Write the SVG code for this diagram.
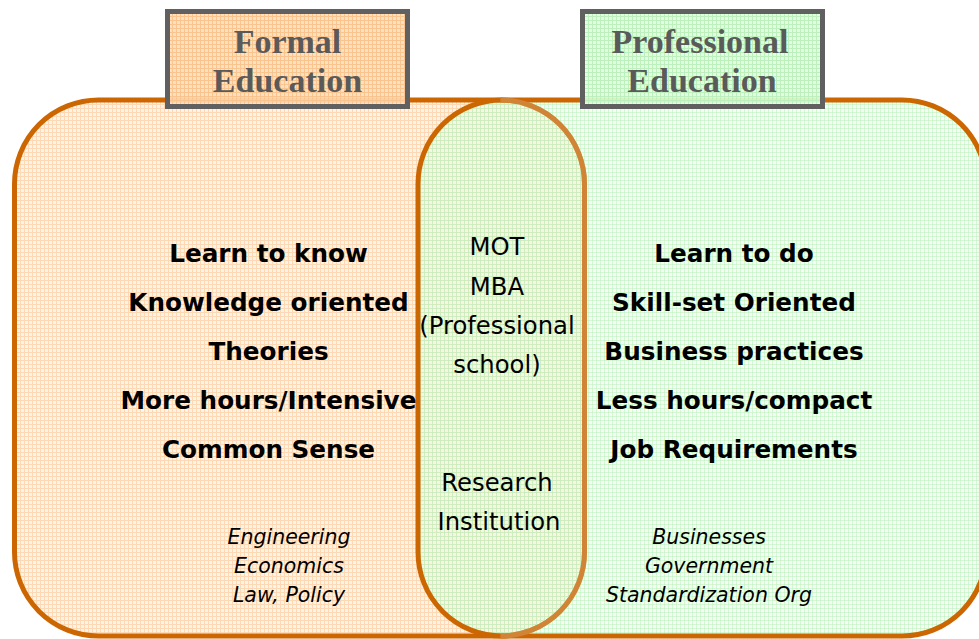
<svg xmlns="http://www.w3.org/2000/svg" width="979" height="639" viewBox="0 0 979 639">
<defs>
<pattern id="po" width="4" height="4" patternUnits="userSpaceOnUse">
<rect width="4" height="4" fill="#fff3e7"/>
<rect width="4" height="1" fill="#fcd8b4"/>
<rect width="1" height="4" fill="#fcd8b4"/>
</pattern>
<pattern id="pg" width="4" height="4" patternUnits="userSpaceOnUse">
<rect width="4" height="4" fill="#e2ffe2" fill-opacity="0.4"/>
<rect width="4" height="1" fill="#b8f0b8" fill-opacity="0.5"/>
<rect width="1" height="4" fill="#b8f0b8" fill-opacity="0.5"/>
</pattern>
<pattern id="pto" width="4" height="4" patternUnits="userSpaceOnUse">
<rect width="4" height="4" fill="#fddcbc" fill-opacity="0.9"/>
<rect width="4" height="1" fill="#f9c48e"/>
<rect width="1" height="4" fill="#f9c48e"/>
</pattern>
<pattern id="ptg" width="4" height="4" patternUnits="userSpaceOnUse">
<rect width="4" height="4" fill="#ddffdd" fill-opacity="0.9"/>
<rect width="4" height="1" fill="#bdf0bd"/>
<rect width="1" height="4" fill="#bdf0bd"/>
</pattern>
</defs>
<style>
.area{stroke:#cc6600;stroke-width:5}
.tbox{stroke:#606060;stroke-width:5}
.title{font-family:"Liberation Serif","Times New Roman",serif;font-weight:bold;font-size:34px;fill:#5a5a5a;text-anchor:middle}
.main{font-family:"DejaVu Sans",Verdana,sans-serif;font-weight:bold;font-size:24.7px;fill:#000;text-anchor:middle}
.mid{font-family:"DejaVu Sans",Verdana,sans-serif;font-size:24.3px;fill:#000;text-anchor:middle}
.ital{font-family:"DejaVu Sans",Verdana,sans-serif;font-style:italic;font-size:20.5px;fill:#000;text-anchor:middle}
</style>
<rect width="979" height="639" fill="#ffffff"/>
<g id="formal-area">
<rect class="area" x="14.5" y="100" width="570" height="536" rx="84" ry="84" fill="url(#po)"/>
</g>
<g id="professional-area">
<rect class="area" x="418" y="100" width="568" height="536" rx="84" ry="84" fill="url(#pg)"/>
</g>
<g id="formal-area-edge">
<path d="M500.5,100 A84,84 0 0 1 584.5,184 L584.5,552 A84,84 0 0 1 500.5,636" fill="none" stroke="#d28436" stroke-width="5"/>
</g>
<g id="formal-title">
<rect class="tbox" x="167.5" y="11.5" width="240" height="95" fill="url(#pto)"/>
<text class="title" x="287.5" y="53">Formal</text>
<text class="title" x="287.5" y="92">Education</text>
</g>
<g id="professional-title">
<rect class="tbox" x="582.5" y="11.5" width="240" height="95" fill="url(#ptg)"/>
<text class="title" x="700" y="53">Professional</text>
<text class="title" x="702" y="92">Education</text>
</g>
<g id="formal-items">
<text class="main" x="268.5" y="262">Learn to know</text>
<text class="main" x="268.5" y="311">Knowledge oriented</text>
<text class="main" x="268.5" y="360">Theories</text>
<text class="main" x="268.5" y="409">More hours/Intensive</text>
<text class="main" x="268.5" y="458">Common Sense</text>
</g>
<g id="formal-fields">
<text class="ital" x="289" y="544">Engineering</text>
<text class="ital" x="289" y="573">Economics</text>
<text class="ital" x="289" y="602">Law, Policy</text>
</g>
<g id="overlap-items">
<text class="mid" x="497" y="255">MOT</text>
<text class="mid" x="497" y="295">MBA</text>
<text class="mid" x="497" y="334">(Professional</text>
<text class="mid" x="497" y="373">school)</text>
<text class="mid" x="497" y="491">Research</text>
<text class="mid" x="499" y="530">Institution</text>
</g>
<g id="professional-items">
<text class="main" x="734" y="262">Learn to do</text>
<text class="main" x="734" y="311">Skill-set Oriented</text>
<text class="main" x="734" y="360">Business practices</text>
<text class="main" x="734" y="409">Less hours/compact</text>
<text class="main" x="734" y="458">Job Requirements</text>
</g>
<g id="professional-fields">
<text class="ital" x="709" y="544">Businesses</text>
<text class="ital" x="709" y="573">Government</text>
<text class="ital" x="709" y="602">Standardization Org</text>
</g>
<g id="connectors"></g>
</svg>
